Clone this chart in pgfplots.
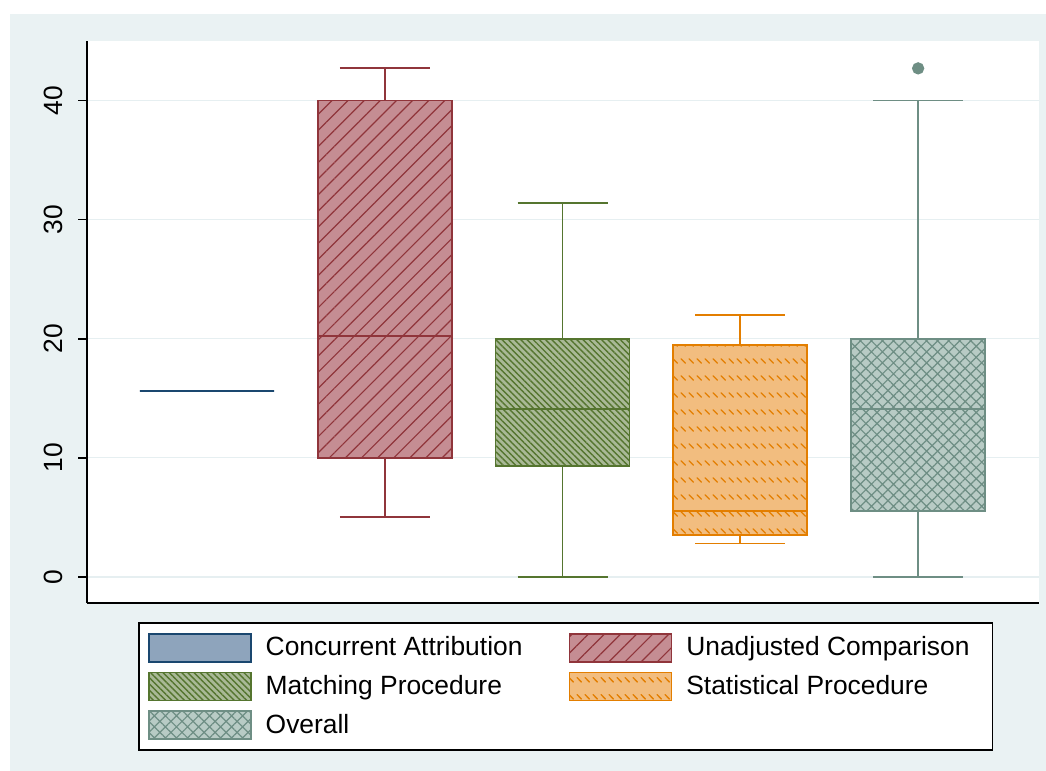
\documentclass[border=0pt]{standalone}
\usepackage{pgfplots}
\pgfplotsset{compat=1.18}
\usepgfplotslibrary{statistics}
\usetikzlibrary{patterns,patterns.meta}
\usepackage{fontspec}
\setmainfont{Liberation Sans}

\definecolor{bgcol}{HTML}{EAF2F3}
\definecolor{gridcol}{HTML}{E6EFF1}
\definecolor{navyc}{HTML}{1A476F}
\definecolor{navyf}{HTML}{8EA4BC}
\definecolor{maroonc}{HTML}{90353B}
\definecolor{maroonf}{HTML}{C58D93}
\definecolor{greenc}{HTML}{55752F}
\definecolor{greenf}{HTML}{A9B996}
\definecolor{orangec}{HTML}{E37E00}
\definecolor{orangef}{HTML}{F2BD7F}
\definecolor{tealc}{HTML}{6E8E84}
\definecolor{tealf}{HTML}{B8CBC5}

% rows of short back-slanted dashes
\tikzdeclarepattern{
  name=ticks,
  type=uncolored,
  bounding box={(0pt,0pt) and (4pt,8.3pt)},
  tile size={(4pt,8.3pt)},
  code={\draw[line width=0.7pt, line cap=round] (0.6pt,5.2pt) -- (3pt,3pt);}
}

\tikzset{
  unadj/.style={preaction={fill=maroonf}, pattern={Lines[angle=45,distance=5.7pt,line width=0.6pt]}, pattern color=maroonc},
  match/.style={preaction={fill=greenf}, pattern={Lines[angle=-45,distance=2.2pt,line width=0.7pt]}, pattern color=greenc},
  stat/.style={preaction={fill=orangef}, pattern=ticks, pattern color=orangec},
  over/.style={preaction={fill=tealf}, pattern={Hatch[angle=45,distance=3.9pt,line width=0.6pt]}, pattern color=tealc},
}

\newcommand{\chartfont}{\fontsize{13.2}{15}\selectfont}

\begin{document}
\begin{tikzpicture}
\fill[white] (0,0) rectangle (523pt,385.5pt);
\fill[bgcol] (5pt,0) rectangle (523pt,378.5pt);
\begin{axis}[
  at={(43.5pt,84pt)}, anchor=south west,
  scale only axis, width=476pt, height=281pt,
  xmin=0.325, xmax=5.68, ymin=-2.2, ymax=45,
  axis background/.style={fill=white},
  axis lines*=left, axis line style={-, line width=0.9pt, black},
  xtick=\empty, ytick={0,10,20,30,40},
  tick align=outside, major tick length=4.5pt,
  tick style={line width=0.9pt, black},
  ymajorgrids, grid style={gridcol, line width=0.75pt},
  yticklabel style={xshift=-7.5pt, rotate=90, anchor=south, inner sep=0pt, font=\chartfont},
  /pgf/number format/assume math mode=true,
  boxplot/draw direction=y,
  boxplot/box extend=0.754, boxplot/whisker extend=0.506,
  legend columns=2,
  legend cell align=left,
  legend style={at={(axis description cs:0.0536,-0.0338)}, anchor=north west,
    draw=black, line width=0.9pt, fill=white, inner xsep=4.5pt, inner ysep=5pt,
    font=\chartfont, row sep=4.5pt,
    /tikz/every odd column/.append style={column sep=7pt},
    /tikz/every even column/.append style={column sep=23pt},
    nodes={inner sep=0pt}},
  legend image code/.code={\draw[#1, line width=0.9pt] (0pt,-7pt) rectangle (51pt,7pt);},
]
% Concurrent Attribution: every quantile at the same value
\addplot[forget plot, navyc, line width=0.9pt,
  boxplot prepared={draw position=1, lower whisker=15.6, lower quartile=15.6,
    median=15.6, upper quartile=15.6, upper whisker=15.6}] coordinates {};
% Unadjusted Comparison
\addplot[forget plot, maroonc, line width=0.9pt, boxplot/every box/.style={unadj},
  boxplot prepared={draw position=2, lower whisker=5, lower quartile=10,
    median=20.2, upper quartile=40, upper whisker=42.7}] coordinates {};
% Matching Procedure
\addplot[forget plot, greenc, line width=0.9pt, boxplot/every box/.style={match},
  boxplot prepared={draw position=3, lower whisker=0, lower quartile=9.3,
    median=14.1, upper quartile=20, upper whisker=31.4}] coordinates {};
% Statistical Procedure
\addplot[forget plot, orangec, line width=0.9pt, boxplot/every box/.style={stat},
  boxplot prepared={draw position=4, lower whisker=2.8, lower quartile=3.5,
    median=5.5, upper quartile=19.5, upper whisker=22}] coordinates {};
% Overall, with one outlier
\addplot[forget plot, tealc, line width=0.9pt, boxplot/every box/.style={over},
  mark=*, mark size=2.6pt, mark options={solid, fill=tealc, draw=tealc},
  boxplot prepared={draw position=5, lower whisker=0, lower quartile=5.5,
    median=14.1, upper quartile=20, upper whisker=40}]
  table[row sep=\\, y index=0] {data\\ 42.7\\};

\addlegendimage{draw=navyc, fill=navyf}
\addlegendentry{Concurrent Attribution}
\addlegendimage{draw=maroonc, unadj}
\addlegendentry{Unadjusted Comparison\hspace*{7pt}}
\addlegendimage{draw=greenc, match}
\addlegendentry{Matching Procedure}
\addlegendimage{draw=orangec, stat}
\addlegendentry{Statistical Procedure}
\addlegendimage{draw=tealc, over}
\addlegendentry{Overall}
\end{axis}
\end{tikzpicture}
\end{document}
